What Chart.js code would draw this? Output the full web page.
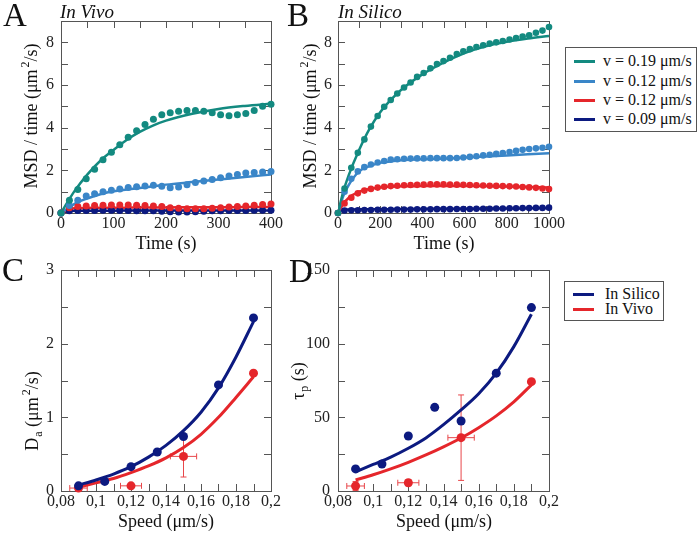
<!DOCTYPE html>
<html>
<head>
<meta charset="utf-8">
<script src="https://cdn.jsdelivr.net/npm/chart.js@4"></script>
<style>
  body { margin: 0; background: #fff; }
  #wrap { position: relative; width: 700px; height: 536px; overflow: hidden;
          font-family: "Liberation Serif", "Times New Roman", Times, serif; color: #111; }
  canvas { position: absolute; left: 0; top: 0; }
  .lab { position: absolute; white-space: nowrap; line-height: 1; }
  .letter { font-size: 33px; }
  .ptitle { font-size: 19px; font-style: italic; }
  .xt { font-size: 18px; transform: translate(-50%, -50%); }
  .yt { font-size: 18px; transform: translate(-50%, -50%) rotate(-90deg); }
  .yt sup { font-size: 12px; vertical-align: 0; position: relative; top: -0.7em; margin-left: 2px; }
  .yt sub { font-size: 12px; vertical-align: 0; position: relative; top: 0.35em; margin-left: 1px; }
  .legend { position: absolute; box-sizing: border-box; border: 1px solid #555; background: #fff; font-size: 16px; }
  .row { position: absolute; left: 0; right: 0; height: 18px; line-height: 18px; padding-left: 37px; white-space: nowrap; }
  .row i { position: absolute; left: 8px; top: 7.5px; width: 21px; height: 3px; }
</style>
</head>
<body>
<div id="wrap">
  <canvas id="cA" width="700" height="536"></canvas>
  <canvas id="cB" width="700" height="536"></canvas>
  <canvas id="cC" width="700" height="536"></canvas>
  <canvas id="cD" width="700" height="536"></canvas>

  <div class="lab letter" style="left:3px;top:-1px">A</div>
  <div class="lab letter" style="left:287px;top:-1px">B</div>
  <div class="lab letter" style="left:2px;top:254px">C</div>
  <div class="lab letter" style="left:289px;top:255px">D</div>
  <div class="lab ptitle" style="left:60px;top:2px">In Vivo</div>
  <div class="lab ptitle" style="left:338px;top:2px">In Silico</div>

  <div class="lab yt" style="left:31px;top:116px">MSD / time (μm<sup>2</sup>/s)</div>
  <div class="lab yt" style="left:310px;top:116px">MSD / time (μm<sup>2</sup>/s)</div>
  <div class="lab yt" style="left:32px;top:411px">D<sub>a</sub> (μm<sup>2</sup>/s)</div>
  <div class="lab yt" style="left:298px;top:381px">τ<sub>p</sub> (s)</div>

  <div class="lab xt" style="left:166px;top:243px">Time (s)</div>
  <div class="lab xt" style="left:444px;top:243px">Time (s)</div>
  <div class="lab xt" style="left:166px;top:521px">Speed (μm/s)</div>
  <div class="lab xt" style="left:444px;top:521px">Speed (μm/s)</div>

  <div class="legend" style="left:565px;top:47px;width:132px;height:85px">
    <div class="row" style="top:4px"><i style="background:#138a80"></i>v = 0.19 μm/s</div>
    <div class="row" style="top:24px"><i style="background:#3a86c8"></i>v = 0.12 μm/s</div>
    <div class="row" style="top:43px"><i style="background:#e5262b"></i>v = 0.12 μm/s</div>
    <div class="row" style="top:62px"><i style="background:#0c1a80"></i>v = 0.09 μm/s</div>
  </div>
  <div class="legend" style="left:564px;top:281px;width:100px;height:40px">
    <div class="row" style="top:3px;padding-left:40px"><i style="background:#0c1a80"></i>In Silico</div>
    <div class="row" style="top:18px;padding-left:40px"><i style="background:#e5262b"></i>In Vivo</div>
  </div>
</div>

<script>
// colours
const teal = '#138a80', lightBlue = '#3a86c8', red = '#e5262b', navy = '#0c1a80';

// Panel A (in vivo MSD/time)
const timeA = [0,16,32,48,64,80,96,112,128,144,160,176,192,208,224,240,256,272,288,304,320,336,352,368,384,400];
const tealA = [0,0.6,1.1,1.6,2.05,2.5,2.85,3.2,3.55,3.85,4.15,4.4,4.6,4.7,4.77,4.8,4.8,4.77,4.7,4.6,4.56,4.6,4.66,4.8,5.0,5.1];
const blueA = [0,0.35,0.6,0.8,0.9,1.0,1.07,1.13,1.19,1.23,1.27,1.3,1.25,1.18,1.22,1.33,1.43,1.5,1.57,1.65,1.74,1.8,1.87,1.9,1.92,1.95];
const redA  = [0,0.25,0.3,0.33,0.35,0.36,0.37,0.37,0.37,0.36,0.35,0.33,0.3,0.25,0.22,0.2,0.2,0.2,0.22,0.25,0.28,0.3,0.33,0.36,0.4,0.42];
const navyA = [0,0.1,0.12,0.12,0.12,0.13,0.13,0.12,0.12,0.11,0.1,0.1,0.08,0.06,0.05,0.05,0.06,0.08,0.1,0.11,0.12,0.12,0.12,0.13,0.13,0.13];
const fitTimeA = [0,25,50,75,100,125,150,175,200,250,300,350,400];
const tealFitA = [0,1.0,1.8,2.45,2.95,3.42,3.8,4.1,4.33,4.65,4.88,5.02,5.12];
const blueFitA = [0,0.42,0.68,0.88,1.02,1.1,1.17,1.25,1.33,1.45,1.57,1.69,1.8];
const redFitA  = [0,0.22,0.24,0.25,0.25,0.25,0.26,0.26,0.26,0.27,0.27,0.28,0.28];
const navyFitA = [0,0.1,0.11,0.11,0.11,0.12,0.12,0.12,0.12,0.12,0.12,0.12,0.12];

// Panel B (in silico MSD/time)
const timeB = [0,31,63,94,125,156,188,219,250,281,313,344,375,406,438,469,500,531,563,594,625,656,688,719,750,781,813,844,875,906,938,969,1000];
const tealB = [0,1.15,2.12,2.82,3.45,4.05,4.55,4.98,5.3,5.6,5.88,6.12,6.38,6.56,6.78,6.98,7.12,7.28,7.45,7.58,7.68,7.78,7.86,7.94,8.0,8.06,8.13,8.2,8.27,8.33,8.45,8.55,8.72];
const blueB = [0,1.0,1.6,1.95,2.15,2.27,2.37,2.44,2.5,2.52,2.54,2.55,2.56,2.56,2.57,2.57,2.57,2.57,2.58,2.6,2.63,2.66,2.7,2.73,2.77,2.81,2.86,2.91,2.96,3.0,3.03,3.06,3.1];
const redB  = [0,0.45,0.72,0.92,1.05,1.13,1.19,1.23,1.26,1.28,1.3,1.31,1.32,1.33,1.34,1.34,1.34,1.33,1.33,1.32,1.31,1.3,1.29,1.28,1.27,1.26,1.25,1.24,1.22,1.2,1.18,1.15,1.12];
const navyB = [0,0.12,0.13,0.13,0.14,0.14,0.15,0.15,0.15,0.16,0.16,0.16,0.17,0.17,0.17,0.18,0.18,0.18,0.19,0.19,0.19,0.2,0.2,0.2,0.21,0.21,0.22,0.22,0.23,0.23,0.24,0.24,0.25];
const fitTimeB = [0,25,50,100,150,200,250,300,400,500,600,700,800,900,1000];
const tealFitB = [0,1.0,1.75,2.95,3.95,4.72,5.3,5.78,6.5,7.05,7.5,7.82,8.03,8.18,8.3];
const blueFitB = [0,0.8,1.3,1.95,2.2,2.35,2.42,2.47,2.52,2.55,2.6,2.65,2.7,2.75,2.8];
const redFitB  = [0,0.42,0.7,1.0,1.13,1.2,1.23,1.25,1.26,1.27,1.27,1.26,1.24,1.22,1.2];
const navyFitB = [0,0.15,0.16,0.17,0.17,0.18,0.18,0.19,0.19,0.2,0.2,0.21,0.21,0.22,0.23];

// Panels C and D (vs speed)
const speedSilico = [0.09,0.105,0.12,0.135,0.15,0.17,0.19];
const daSilico    = [0.07,0.13,0.33,0.53,0.74,1.44,2.35];
const tauSilico   = [15,18.3,37.3,56.8,47.5,80,124.5];
const speedVivo   = [0.09,0.12,0.15,0.19];
const daVivo      = [0.04,0.07,0.47,1.6];
const tauVivo     = [3.4,5.6,36.2,74.2];
const speedErrVivo = [0.005,0.006,0.0075,0];
const daErrVivo    = [0.03,0,0.28,0];
const tauErrVivo   = [3,2,29,0];
const speedFit     = [0.09,0.1,0.11,0.12,0.13,0.14,0.15,0.16,0.17,0.18,0.19];
const daFitSilico  = [0.08,0.15,0.23,0.33,0.46,0.62,0.82,1.07,1.4,1.82,2.3];
const daFitVivo    = [0.05,0.11,0.17,0.25,0.34,0.45,0.59,0.77,1.0,1.27,1.55];
const tauFitSilico = [13,18,23,29,36,45,55,66,80,98,120];
const tauFitVivo   = [7.5,11,15,19.5,24.5,30,36,43,51,60.5,72];

const zip = (xs, ys) => xs.map((x, i) => ({ x, y: ys[i] }));
const tickFont = { family: '"Liberation Serif", "Times New Roman", Times, serif', size: 16 };
const comma = v => String(Number(v.toFixed(2))).replace('.', ',');

// frame box and inward ticks on all four sides
const framePlugin = {
  id: 'frame',
  beforeDatasetsDraw(chart, args, o) {
    const { ctx, chartArea: a, scales: { x, y } } = chart;
    ctx.save();
    ctx.strokeStyle = '#555'; ctx.lineWidth = 1;
    ctx.strokeRect(a.left + 0.5, a.top + 0.5, a.right - a.left, a.bottom - a.top);
    const len = 7;
    const nx = Math.round((x.max - x.min) / o.xStep);
    ctx.beginPath();
    for (let i = 1; i < nx; i++) {
      const px = Math.round(x.getPixelForValue(x.min + i * o.xStep)) + 0.5;
      ctx.moveTo(px, a.bottom); ctx.lineTo(px, a.bottom - len);
      ctx.moveTo(px, a.top); ctx.lineTo(px, a.top + len);
    }
    const ny = Math.round((y.max - y.min) / o.yStep);
    for (let i = 1; i < ny; i++) {
      const py = Math.round(y.getPixelForValue(y.min + i * o.yStep)) + 0.5;
      ctx.moveTo(a.left, py); ctx.lineTo(a.left + len, py);
      ctx.moveTo(a.right, py); ctx.lineTo(a.right - len, py);
    }
    ctx.stroke();
    ctx.restore();
  }
};

// error bars for the in vivo points, through the chart scales
const errPlugin = {
  id: 'errbars',
  beforeDatasetsDraw(chart, args, o) {
    if (!o.xs) return;
    const { ctx, scales: { x, y } } = chart;
    ctx.save();
    ctx.strokeStyle = o.color; ctx.lineWidth = 1;
    ctx.beginPath();
    o.xs.forEach((xv, i) => {
      const yv = o.ys[i], cap = 3;
      const py = y.getPixelForValue(yv), px = x.getPixelForValue(xv);
      if (o.ex[i]) {
        const l = x.getPixelForValue(xv - o.ex[i]), r = x.getPixelForValue(xv + o.ex[i]);
        ctx.moveTo(l, py); ctx.lineTo(r, py);
        ctx.moveTo(l, py - cap); ctx.lineTo(l, py + cap);
        ctx.moveTo(r, py - cap); ctx.lineTo(r, py + cap);
      }
      if (o.ey[i]) {
        const t = y.getPixelForValue(yv + o.ey[i]), b = y.getPixelForValue(Math.max(0, yv - o.ey[i]));
        ctx.moveTo(px, t); ctx.lineTo(px, b);
        ctx.moveTo(px - cap, t); ctx.lineTo(px + cap, t);
        ctx.moveTo(px - cap, b); ctx.lineTo(px + cap, b);
      }
    });
    ctx.stroke();
    ctx.restore();
  }
};

function lineSet(xs, ys, color, width) {
  return { data: zip(xs, ys), showLine: true, borderColor: color, borderWidth: width,
           pointRadius: 0, cubicInterpolationMode: 'monotone', order: 1 };
}
function pointSet(xs, ys, color, r) {
  return { data: zip(xs, ys), showLine: false, backgroundColor: color, pointBackgroundColor: color,
           pointBorderWidth: 0, pointRadius: r, clip: false, order: 0 };
}

function makeChart(id, pad, xo, yo, datasets, frameOpts, errOpts) {
  return new Chart(document.getElementById(id), {
    type: 'scatter',
    data: { datasets },
    options: {
      responsive: false, animation: false,
      layout: { padding: pad },
      plugins: { legend: { display: false }, tooltip: { enabled: false },
                 frame: frameOpts, errbars: errOpts || {} },
      scales: {
        x: { type: 'linear', min: xo.min, max: xo.max,
             grid: { display: false, drawTicks: false }, border: { display: false },
             ticks: { stepSize: xo.step, padding: 1, font: tickFont, color: '#222',
                      autoSkip: false, maxRotation: 0, includeBounds: false,
                      callback: xo.fmt || (v => v) },
             afterFit(s) { s.height = 40; s.paddingLeft = 0; s.paddingRight = 0; } },
        y: { type: 'linear', min: yo.min, max: yo.max,
             grid: { display: false, drawTicks: false }, border: { display: false },
             ticks: { stepSize: yo.step, padding: yo.pad, font: tickFont, color: '#222',
                      autoSkip: false, includeBounds: false },
             afterFit(s) { s.width = 40; s.paddingTop = 0; s.paddingBottom = 0; } }
      }
    },
    plugins: [framePlugin, errPlugin]
  });
}

// A: chart area 61..271 x 21..213
makeChart('cA', { left: 21, top: 21, right: 429, bottom: 283 },
  { min: 0, max: 400, step: 100 }, { min: 0, max: 9, step: 2, pad: 7 },
  [
    pointSet(timeA, tealA, teal, 3.5), pointSet(timeA, blueA, lightBlue, 3.5),
    pointSet(timeA, redA, red, 3.5), pointSet(timeA, navyA, navy, 3.5),
    lineSet(fitTimeA, tealFitA, teal, 2.5), lineSet(fitTimeA, blueFitA, lightBlue, 2.5),
    lineSet(fitTimeA, redFitA, red, 2.5), lineSet(fitTimeA, navyFitA, navy, 2.5)
  ], { xStep: 50, yStep: 1 });

// B: chart area 338..549 x 21..213
makeChart('cB', { left: 298, top: 21, right: 151, bottom: 283 },
  { min: 0, max: 1000, step: 200 }, { min: 0, max: 9, step: 2, pad: 6 },
  [
    pointSet(timeB, tealB, teal, 3.3), pointSet(timeB, blueB, lightBlue, 3.3),
    pointSet(timeB, redB, red, 3.3), pointSet(timeB, navyB, navy, 3.3),
    lineSet(fitTimeB, tealFitB, teal, 2.5), lineSet(fitTimeB, blueFitB, lightBlue, 2.5),
    lineSet(fitTimeB, redFitB, red, 2.5), lineSet(fitTimeB, navyFitB, navy, 2.5)
  ], { xStep: 100, yStep: 1 });

// C: chart area 61..271 x 270..491
makeChart('cC', { left: 21, top: 270, right: 429, bottom: 5 },
  { min: 0.08, max: 0.2, step: 0.02, fmt: comma }, { min: 0, max: 3, step: 1, pad: 7 },
  [
    pointSet(speedSilico, daSilico, navy, 4.5), pointSet(speedVivo, daVivo, red, 4.5),
    lineSet(speedFit, daFitSilico, navy, 3), lineSet(speedFit, daFitVivo, red, 3)
  ], { xStep: 0.01, yStep: 0.5 },
  { xs: speedVivo, ys: daVivo, ex: speedErrVivo, ey: daErrVivo, color: '#e8474a' });

// D: chart area 338..549 x 270..491
makeChart('cD', { left: 298, top: 270, right: 151, bottom: 5 },
  { min: 0.08, max: 0.2, step: 0.02, fmt: comma }, { min: 0, max: 150, step: 50, pad: 8 },
  [
    pointSet(speedSilico, tauSilico, navy, 4.5), pointSet(speedVivo, tauVivo, red, 4.5),
    lineSet(speedFit, tauFitSilico, navy, 3), lineSet(speedFit, tauFitVivo, red, 3)
  ], { xStep: 0.01, yStep: 25 },
  { xs: speedVivo, ys: tauVivo, ex: speedErrVivo, ey: tauErrVivo, color: '#e8474a' });
</script>
</body>
</html>
